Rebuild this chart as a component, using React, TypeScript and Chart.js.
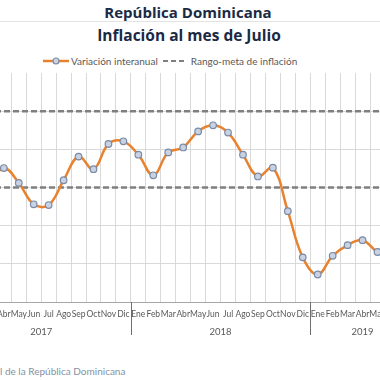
import React, { useEffect, useRef } from 'react';
import { Chart, registerables } from 'chart.js';

Chart.register(...registerables);

const monthNames = ['Ene', 'Feb', 'Mar', 'Abr', 'May', 'Jun', 'Jul', 'Ago', 'Sep', 'Oct', 'Nov', 'Dic'];
const years = ['2017', '2018', '2019'];
const monthsIn2019 = 7;
const categories: string[] = [
  ...monthNames,
  ...monthNames,
  ...monthNames.slice(0, monthsIn2019),
];

// Variación interanual (%) Ene 2017 – Jul 2019
const inflation = [
  1.9, 2.6, 3.05, 3.51, 3.12, 2.56, 2.54, 3.19, 3.81, 3.48, 4.14, 4.21,
  3.86, 3.32, 3.92, 4.05, 4.47, 4.63, 4.44, 3.86, 3.29, 3.52, 2.38, 1.17,
  0.72, 1.21, 1.49, 1.62, 1.31, 1.18, 1.35,
];
const targetUpper = 5;
const targetLower = 3;
const yMin = 0;
const yMax = 6;
const yStep = 1;

const legendLabels = ['Variación interanual', 'Rango-meta de inflación'];
const titleTop = 'República Dominicana';
const titleMain = 'Inflación al mes de Julio';
const footerText = 'l de la República Dominicana';

const ORANGE = '#E8822E';
const DASH = '#7f7f7f';
const GRID = '#d9d9d9';

export default function App() {
  const ref = useRef<HTMLCanvasElement>(null);

  useEffect(() => {
    const canvas = ref.current;
    if (!canvas) return;

    const yearPlugin = {
      id: 'yearGroups',
      afterDraw(chart: any) {
        const x = chart.scales.x;
        const ctx = chart.ctx;
        const bottom = chart.chartArea.bottom;
        ctx.save();
        ctx.strokeStyle = '#6f6f6f';
        ctx.lineWidth = 1;
        for (let i = 12; i < categories.length; i += 12) {
          const px = Math.round((x.getPixelForValue(i - 1) + x.getPixelForValue(i)) / 2) + 0.5;
          ctx.beginPath();
          ctx.moveTo(px, bottom);
          ctx.lineTo(px, bottom + 33);
          ctx.stroke();
        }
        ctx.fillStyle = '#595959';
        ctx.font = '9.5px Lato';
        ctx.textAlign = 'center';
        ctx.textBaseline = 'middle';
        years.forEach((yr, k) => {
          const start = k * 12;
          const end = Math.min(start + 11, categories.length - 1);
          const cx = (x.getPixelForValue(start) + x.getPixelForValue(end)) / 2;
          ctx.fillText(yr, cx, bottom + 29.5);
        });
        ctx.restore();
      },
    };

    const chart = new Chart(canvas, {
      type: 'line',
      data: {
        labels: categories,
        datasets: [
          {
            label: legendLabels[0],
            data: inflation,
            borderColor: ORANGE,
            borderWidth: 2.5,
            tension: 0.4,
            pointRadius: 3.3,
            pointBackgroundColor: '#c8d2e2',
            pointBorderColor: '#7b8ba6',
            pointBorderWidth: 1.2,
          },
          {
            label: legendLabels[1],
            data: categories.map(() => targetUpper),
            borderColor: DASH,
            borderWidth: 2.5,
            borderDash: [6, 3],
            pointRadius: 0,
          },
          {
            label: legendLabels[1],
            data: categories.map(() => targetLower),
            borderColor: DASH,
            borderWidth: 2.5,
            borderDash: [6, 3],
            pointRadius: 0,
          },
        ],
      },
      options: {
        animation: false,
        responsive: false,
        maintainAspectRatio: false,
        devicePixelRatio: 1,
        layout: { padding: { left: 11.5, right: 0, top: 3, bottom: 0 }, autoPadding: false },
        plugins: { legend: { display: false }, tooltip: { enabled: false }, title: { display: false } },
        scales: {
          x: {
            type: 'category',
            offset: true,
            grid: { offset: true, color: GRID, lineWidth: 1, drawTicks: false },
            border: { display: true, color: '#a6a6a6', width: 1 },
            ticks: {
              color: '#595959',
              font: { family: 'Lato', size: 8.5 },
              padding: 7.5,
              autoSkip: false,
              maxRotation: 0,
              minRotation: 0,
            },
            afterFit: (s: any) => { s.height = 40; },
          },
          y: {
            min: yMin,
            max: yMax,
            ticks: { display: false, stepSize: yStep },
            grid: {
              drawTicks: false,
              color: (c: any) => (c.tick && c.tick.value === yMax ? 'rgba(0,0,0,0)' : GRID),
            },
            border: { display: false },
            afterFit: (s: any) => { s.width = 0; },
          },
        },
      },
      plugins: [yearPlugin],
    });
    return () => chart.destroy();
  }, []);

  return (
    <div style={{ position: 'fixed', left: 0, top: 0, width: 380, height: 380, overflow: 'hidden', background: '#fff' }}>
      <div style={{ position: 'absolute', left: 0, top: 2, width: 376, textAlign: 'center', font: 'bold 15px "Open Sans"', lineHeight: '20px', color: '#1b2a44' }}>
        {titleTop}
      </div>
      <div style={{ position: 'absolute', left: 0, top: 20.5, width: 380, height: 1.5, background: '#e4e4e4' }} />
      <div style={{ position: 'absolute', left: 0, top: 24, width: 378, textAlign: 'center', font: 'bold 15.5px "Open Sans"', lineHeight: '22px', color: '#1b2a44' }}>
        {titleMain}
      </div>
      <div style={{ position: 'absolute', left: 43, top: 54, height: 14, display: 'flex', alignItems: 'center', font: '10px Lato', color: '#595959', whiteSpace: 'nowrap' }}>
        <svg width="26" height="10" style={{ marginRight: 2 }}>
          <line x1="0" y1="5" x2="26" y2="5" stroke={ORANGE} strokeWidth="2.5" />
          <circle cx="13" cy="5" r="3" fill="#c8d2e2" stroke="#7b8ba6" strokeWidth="1.2" />
        </svg>
        <span>{legendLabels[0]}</span>
        <svg width="23" height="10" style={{ marginLeft: 5, marginRight: 5 }}>
          <line x1="0" y1="5" x2="23" y2="5" stroke={DASH} strokeWidth="2" strokeDasharray="5 3" />
        </svg>
        <span>{legendLabels[1]}</span>
      </div>
      <canvas ref={ref} width={480} height={272} style={{ position: 'absolute', left: -60, top: 70, width: 480, height: 272 }} />
      <div style={{ position: 'absolute', left: 0, top: 364, font: '10px Lato', color: '#8592a4', whiteSpace: 'nowrap', lineHeight: '14px' }}>
        {footerText}
      </div>
    </div>
  );
}
